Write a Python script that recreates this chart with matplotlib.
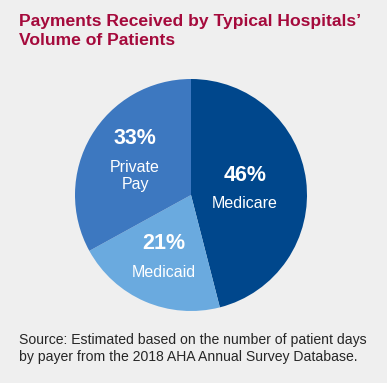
import matplotlib
matplotlib.use("Agg")
import matplotlib.pyplot as plt
import numpy as np

payers = ["Medicare", "Medicaid", "Private\nPay"]
shares = [46, 21, 33]
colors = ["#00478c", "#6aaadf", "#3d78c0"]
label_dist = [0.47, 0.58, 0.56]

BG = "#efefef"
TITLE_RED = "#a50a3c"

fig = plt.figure(figsize=(3.87, 3.83), dpi=100, facecolor=BG)

# pie axes: center ~ (191, 195) px, radius ~ 116 px
W, H = 387, 383
cx, cy, r = 191, 195, 116
ax = fig.add_axes([(cx - r) / W, 1 - (cy + r) / H, 2 * r / W, 2 * r / H])
ax.set_facecolor(BG)
wedges, _ = ax.pie(shares, colors=colors, startangle=90, counterclock=False,
                   wedgeprops=dict(linewidth=0))
ax.set_xlim(-1, 1)
ax.set_ylim(-1, 1)
ax.set_aspect("equal")

for w, name, pct, d in zip(wedges, payers, shares, label_dist):
    mid = np.deg2rad((w.theta1 + w.theta2) / 2)
    x, y = d * np.cos(mid), d * np.sin(mid)
    nlines = name.count("\n") + 1
    ax.text(x, y + 0.11 + 0.09 * (nlines - 1), f"{pct}%", color="white",
            fontsize=15.5, fontweight="bold", ha="center", va="center",
            family=["Liberation Sans Narrow", "Liberation Sans"])
    ax.text(x, y + 0.11 + 0.09 * (nlines - 1) - 0.18, name, color="white",
            fontsize=11.5, ha="center", va="top", linespacing=1.2,
            family=["Liberation Sans Narrow", "Liberation Sans"])

fig.text(19 / W, 1 - 14 / H, "Payments Received by Typical Hospitals\u2019\nVolume of Patients",
         color=TITLE_RED, fontsize=12.6, fontweight="bold", ha="left", va="top",
         linespacing=1.35, family=["Liberation Sans"])

fig.text(19 / W, 1 - 333 / H, "Source: Estimated based on the number of patient days\nby payer from the 2018 AHA Annual Survey Database.",
         color="#262626", fontsize=10.1, ha="left", va="top", linespacing=1.25,
         family=["Liberation Sans"])

fig.savefig("out.png", dpi=100, facecolor=BG)
